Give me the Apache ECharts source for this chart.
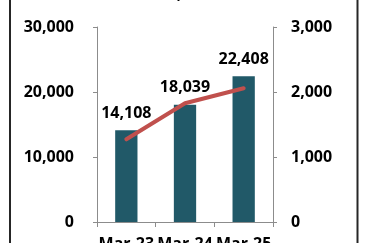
<!DOCTYPE html>
<html><head><meta charset="utf-8">
<script src="https://cdn.jsdelivr.net/npm/echarts@6/dist/echarts.min.js"></script>
<style>html,body{margin:0;padding:0;background:#fff}#c{width:365px;height:243px}</style>
</head><body><div id="c"></div>
<script>
const categories = ['Mar-23', 'Mar-24', 'Mar-25'];
const barValues = [14108, 18039, 22408];
const lineValues = [1272, 1826, 2057];
const leftTicks = [0, 10000, 20000, 30000];
const rightTicks = [0, 1000, 2000, 3000];
const titleText = 'Deposits and Customers (000)';

const FONT = 'Open Sans';
const chart = echarts.init(document.getElementById('c'), null, {renderer: 'canvas'});
const fmt = v => v.toLocaleString('en-US');
chart.setOption({
  animation: false,
  backgroundColor: '#fff',
  textStyle: {fontFamily: FONT},
  grid: {left: 97, right: 92, top: 27, bottom: 21, containLabel: false, outerBoundsMode: 'none'},
  graphic: [
    {type: 'rect', shape: {x: 9, y: 0, width: 2, height: 243}, style: {fill: '#262626'}},
    {type: 'rect', shape: {x: 356.5, y: 0, width: 2, height: 243}, style: {fill: '#262626'}},
    {type: 'text', style: {text: titleText, x: 351, y: -5.5, align: 'right', verticalAlign: 'middle',
      font: 'bold 13px "' + FONT + '"', fill: '#000'}}
  ],
  xAxis: {
    type: 'category', data: categories, boundaryGap: true,
    axisLine: {lineStyle: {color: '#8c8c8c', width: 1}},
    axisTick: {show: true, length: 5, lineStyle: {color: '#8c8c8c'}},
    axisLabel: {interval: 0, margin: 14, color: '#000', fontWeight: 'bold', fontSize: 16, fontFamily: FONT}
  },
  yAxis: [
    {type: 'value', min: leftTicks[0], max: leftTicks[leftTicks.length - 1], interval: leftTicks[1] - leftTicks[0],
      axisLine: {show: true, lineStyle: {color: '#8c8c8c'}},
      axisTick: {show: true, length: 4, lineStyle: {color: '#8c8c8c'}},
      splitLine: {show: false},
      axisLabel: {margin: 23, color: '#000', fontWeight: 'bold', fontSize: 16, fontFamily: FONT, formatter: fmt}},
    {type: 'value', position: 'right', min: rightTicks[0], max: rightTicks[rightTicks.length - 1], interval: rightTicks[1] - rightTicks[0],
      axisLine: {show: true, lineStyle: {color: '#8c8c8c'}},
      axisTick: {show: true, length: 4, lineStyle: {color: '#8c8c8c'}},
      splitLine: {show: false},
      axisLabel: {margin: 18, color: '#000', fontWeight: 'bold', fontSize: 16, fontFamily: FONT, formatter: fmt}}
  ],
  series: [
    {type: 'bar', data: barValues, yAxisIndex: 0, barWidth: '38%',
      itemStyle: {color: '#215968'},
      label: {show: true, position: 'top', distance: 9, color: '#000', fontWeight: 'bold', fontSize: 16, fontFamily: FONT, formatter: p => fmt(p.value)}},
    {type: 'line', data: lineValues, yAxisIndex: 1, showSymbol: false, symbol: 'none',
      lineStyle: {color: '#c0504d', width: 4, cap: 'round'}, z: 5}
  ]
});
</script></body></html>
